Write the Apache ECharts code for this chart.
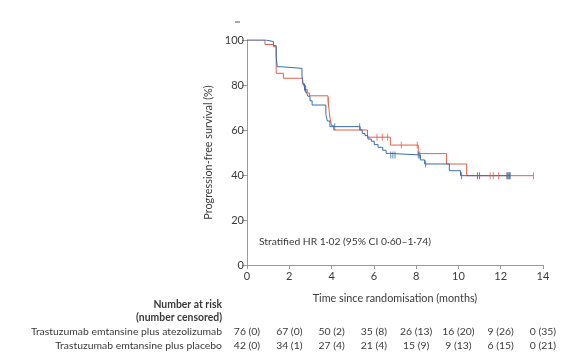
<!DOCTYPE html>
<html><head><meta charset="utf-8">
<script src="https://cdn.jsdelivr.net/npm/echarts@6/dist/echarts.min.js"></script>
<style>html,body{margin:0;padding:0;background:#fff}#c{width:588px;height:363px}</style>
</head><body><div id="c"></div>
<script>
// Kaplan-Meier step points [months, %]
var atezoCurve = [[0,100],[0.9,99.3],[1.25,97.5],[1.38,93],[1.43,88.1],[1.64,87.4],[2.6,84],[2.65,81],[2.72,79],[2.8,77],[2.88,75],[2.98,73],[3.08,71.1],[3.73,67],[3.8,64],[3.92,61.5],[5.35,60],[5.45,58.5],[5.58,57.5],[5.72,56],[5.88,55],[6.02,53.5],[6.2,52.3],[6.42,51],[6.58,49.6],[6.75,48.9],[8.2,46.7],[8.4,44.9],[9.57,41.9],[10.1,39.7],[12.45,39.7]];
var placeboCurve = [[0,100],[0.85,98],[1.25,97],[1.38,85.2],[1.72,83],[2.62,80.5],[2.72,78],[2.85,76.5],[2.95,75.2],[3.83,73],[3.88,69],[3.93,65],[4.0,62],[4.1,60],[5.7,56.8],[6.78,53.3],[8.1,49.5],[9.44,44.9],[10.39,39.7],[13.55,39.7]];
// censoring marks [months, %]
var atezoCensor = [[2.72,79],[2.76,78.5],[4.15,61.5],[5.33,61.5],[6.8,48.9],[6.9,48.9],[7.0,48.9],[8.1,48.9],[8.17,48.9],[8.45,44.9],[10.15,39.7],[10.9,39.7],[11.0,39.7],[12.3,39.7],[12.35,39.7],[12.4,39.7],[12.45,39.7]];
var placeboCensor = [[2.78,78],[3.85,73],[6.15,56.8],[6.4,56.8],[6.65,56.8],[7.3,53.3],[8.05,53.3],[11.5,39.7],[11.65,39.7],[11.9,39.7],[12.3,39.7],[12.4,39.7],[13.55,39.7]];
// number at risk table
var riskTimes = [0,2,4,6,8,10,12,14];
var riskLabels = ["Trastuzumab emtansine plus atezolizumab","Trastuzumab emtansine plus placebo"];
var riskAtezo = ["76 (0)","67 (0)","50 (2)","35 (8)","26 (13)","16 (20)","9 (26)","0 (35)"];
var riskPlacebo = ["42 (0)","34 (1)","27 (4)","21 (4)","15 (9)","9 (13)","6 (15)","0 (21)"];
var yTicks = [0,20,40,60,80,100];

var BLUE = '#3a6cad', RED = '#e2604d', TXT = '#3a3a3a', AX = '#9a9a9a';
var FONT = 'Lato';
var chart = echarts.init(document.getElementById('c'), null, {renderer:'canvas'});
chart.setOption({
  animation:false,
  grid:{left:247,right:45,top:40,bottom:98},
  xAxis:{type:'value',min:0,max:14,interval:2,
    name:'Time since randomisation (months)',nameLocation:'middle',nameGap:28,
    nameTextStyle:{color:TXT,fontFamily:FONT,fontSize:10.8},
    axisLine:{lineStyle:{color:AX,width:1}},
    axisTick:{show:true,length:4,lineStyle:{color:AX}},
    axisLabel:{color:TXT,fontFamily:FONT,fontSize:11,margin:6},
    splitLine:{show:false}},
  yAxis:{type:'value',min:0,max:100,interval:20,
    name:'Progression-free survival (%)',nameLocation:'middle',nameGap:32,
    nameTextStyle:{color:TXT,fontFamily:FONT,fontSize:10.8},
    axisLine:{show:true,lineStyle:{color:AX,width:1}},
    axisTick:{show:true,length:5,lineStyle:{color:AX}},
    axisLabel:{color:TXT,fontFamily:FONT,fontSize:11,margin:3,
      formatter:function(v){return yTicks.indexOf(v)>=0?String(v):'';}},
    splitLine:{show:false}},
  series:[
    {type:'line',step:'end',data:placeboCurve,symbol:'none',lineStyle:{color:RED,width:1},z:3},
    {type:'line',step:'end',data:atezoCurve,symbol:'none',lineStyle:{color:BLUE,width:1},z:4},
    {type:'scatter',data:placeboCensor,symbol:'rect',symbolSize:[1,7],itemStyle:{color:RED},z:5},
    {type:'scatter',data:atezoCensor,symbol:'rect',symbolSize:[1,7],itemStyle:{color:BLUE},z:6}
  ]
});

var g = [];
g.push({type:'text',left:259,top:237,style:{text:'Stratified HR 1·02 (95% CI 0·60–1·74)',fill:TXT,font:'10.3px '+FONT}});
g.push({type:'line',shape:{x1:235,y1:22,x2:240,y2:22},style:{stroke:'#555',lineWidth:1}});
var labelRight = 222;
var TF = '10.4px ' + FONT;
g.push({type:'text',x:labelRight,y:305,style:{text:'Number at risk',fill:TXT,font:'bold '+TF,textAlign:'right',textVerticalAlign:'middle'}});
g.push({type:'text',x:labelRight,y:318,style:{text:'(number censored)',fill:TXT,font:'bold '+TF,textAlign:'right',textVerticalAlign:'middle'}});
var rowsY = [332,346];
var rows = [riskAtezo, riskPlacebo];
for (var r=0;r<2;r++){
  g.push({type:'text',x:labelRight,y:rowsY[r],style:{text:riskLabels[r],fill:TXT,font:TF,textAlign:'right',textVerticalAlign:'middle'}});
  for (var i=0;i<riskTimes.length;i++){
    var px = chart.convertToPixel({xAxisIndex:0}, riskTimes[i]);
    g.push({type:'text',x:px,y:rowsY[r],style:{text:rows[r][i],fill:TXT,font:TF,textAlign:'center',textVerticalAlign:'middle'}});
  }
}
chart.setOption({graphic:g});
</script></body></html>
